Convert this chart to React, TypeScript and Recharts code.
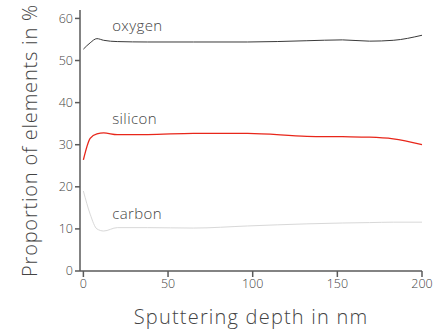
import { LineChart, Line, XAxis, YAxis, ReferenceDot } from 'recharts';

const depth = [0, 4, 8, 12, 20, 38, 65, 97, 132, 153, 169, 183, 200];
const oxygen = [52.7, 54.2, 55.2, 54.8, 54.5, 54.4, 54.4, 54.4, 54.7, 54.9, 54.6, 54.8, 56.0];
const silicon = [26.4, 31.5, 32.6, 32.8, 32.4, 32.4, 32.7, 32.7, 32.0, 31.9, 31.8, 31.4, 30.0];
const carbon = [19.0, 13.5, 10.0, 9.5, 10.3, 10.3, 10.2, 10.7, 11.2, 11.4, 11.5, 11.6, 11.6];

const xTicks = [0, 50, 100, 150, 200];
const yTicks = [0, 10, 20, 30, 40, 50, 60];

const seriesLabels = [
  { name: 'oxygen', x: 17, y: 58.0 },
  { name: 'silicon', x: 17, y: 35.8 },
  { name: 'carbon', x: 17, y: 13.3 },
];

const data = depth.map((d, i) => ({
  depth: d,
  oxygen: oxygen[i],
  silicon: silicon[i],
  carbon: carbon[i],
}));

const FONT = '"Open Sans", Lato, sans-serif';
const AXIS = '#5a5a5a';
const TEXT = '#444444';

function SeriesLabel(props: any) {
  const { viewBox, value } = props;
  return (
    <text
      x={viewBox.x}
      y={viewBox.y}
      dominantBaseline="middle"
      textAnchor="start"
      fill={TEXT}
      fontSize={15}
      letterSpacing={0.4}
      fontFamily={FONT}
      fontWeight={300}
    >
      {value}
    </text>
  );
}

export default function App() {
  return (
    <div style={{ position: 'absolute', left: 0, top: 0, width: 448, height: 329, background: '#fff' }}>
      <LineChart
        width={448}
        height={329}
        data={data}
        margin={{ top: 10, right: 26, left: 0, bottom: 0 }}
      >
        <XAxis
          dataKey="depth"
          type="number"
          domain={[-2, 200]}
          ticks={xTicks}
          height={58}
          stroke={AXIS}
          strokeWidth={1.5}
          tickSize={6}
          tick={{ fill: TEXT, fontSize: 12.5, fontFamily: FONT, fontWeight: 300 }}
          label={{
            value: 'Sputtering depth in nm',
            position: 'insideBottom',
            offset: 5,
            fill: TEXT,
            fontSize: 20,
            letterSpacing: 1.2,
            fontFamily: FONT,
            fontWeight: 300,
          }}
        />
        <YAxis
          type="number"
          domain={[0, 62]}
          ticks={yTicks}
          width={80}
          stroke={AXIS}
          strokeWidth={1.5}
          tickSize={5}
          tick={{ fill: TEXT, fontSize: 12.5, fontFamily: FONT, fontWeight: 300 }}
          label={{
            value: 'Proportion of elements in %',
            angle: -90,
            position: 'insideLeft',
            offset: 30,
            style: { textAnchor: 'middle' },
            fill: TEXT,
            fontSize: 20,
            letterSpacing: 0.8,
            fontFamily: FONT,
            fontWeight: 300,
          }}
        />
        <Line type="monotone" dataKey="oxygen" stroke="#3a3a3a" strokeWidth={1} dot={false} isAnimationActive={false} />
        <Line type="monotone" dataKey="silicon" stroke="#e8261a" strokeWidth={1.3} dot={false} isAnimationActive={false} />
        <Line type="monotone" dataKey="carbon" stroke="#d8d8d8" strokeWidth={1} dot={false} isAnimationActive={false} />
        {seriesLabels.map((s) => (
          <ReferenceDot
            key={s.name}
            x={s.x}
            y={s.y}
            r={0}
            fill="none"
            stroke="none"
            label={<SeriesLabel value={s.name} />}
          />
        ))}
      </LineChart>
    </div>
  );
}
